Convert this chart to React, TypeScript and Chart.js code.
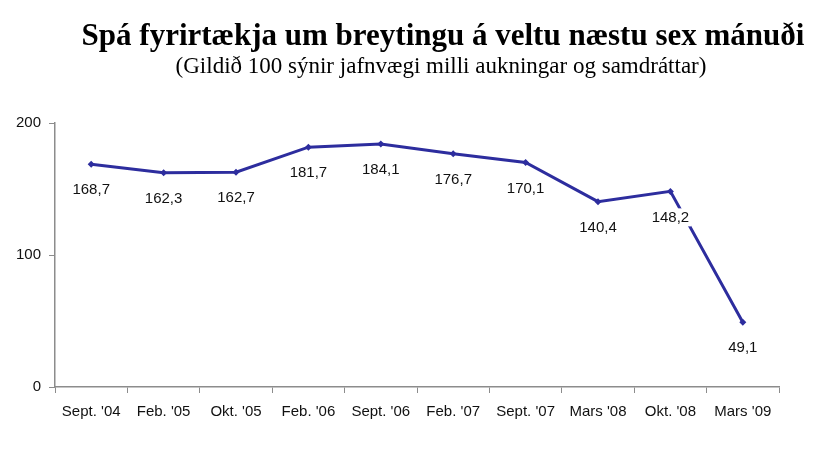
import React, { useEffect, useRef } from "react";
import { Chart, registerables } from "chart.js";

Chart.register(...registerables);

const categories = ["Sept. '04", "Feb. '05", "Okt. '05", "Feb. '06", "Sept. '06", "Feb. '07", "Sept. '07", "Mars '08", "Okt. '08", "Mars '09"];
const values = [168.7, 162.3, 162.7, 181.7, 184.1, 176.7, 170.1, 140.4, 148.2, 49.1];
const valueLabels = ["168,7", "162,3", "162,7", "181,7", "184,1", "176,7", "170,1", "140,4", "148,2", "49,1"];
const titleText = "Spá fyrirtækja um breytingu á veltu næstu sex mánuði";
const subtitleText = "(Gildið 100 sýnir jafnvægi milli aukningar og samdráttar)";

const labelPlugin = {
  id: "valueLabels",
  afterDatasetsDraw(chart: any) {
    const ctx = chart.ctx;
    const meta = chart.getDatasetMeta(0);
    ctx.save();
    ctx.font = "15px 'Liberation Sans', Arial, sans-serif";
    ctx.textAlign = "center";
    ctx.textBaseline = "middle";
    meta.data.forEach((pt: any, i: number) => {
      const txt = valueLabels[i];
      const x = pt.x;
      const y = pt.y + 26;
      const w = ctx.measureText(txt).width;
      ctx.fillStyle = "#ffffff";
      ctx.fillRect(x - w / 2 - 2, y - 9, w + 4, 18);
      ctx.fillStyle = "#111111";
      ctx.fillText(txt, x, y);
    });
    ctx.restore();
  },
};

const titlePlugin = {
  id: "headings",
  afterDraw(chart: any) {
    const ctx = chart.ctx;
    ctx.save();
    ctx.fillStyle = "#000000";
    ctx.textAlign = "center";
    ctx.textBaseline = "middle";
    ctx.font = "bold 31px 'Liberation Serif', 'Times New Roman', serif";
    ctx.fillText(titleText, 443, 37);
    ctx.font = "23px 'Liberation Serif', 'Times New Roman', serif";
    ctx.fillText(subtitleText, 441, 67);
    ctx.restore();
  },
};

export default function App() {
  const ref = useRef<HTMLCanvasElement | null>(null);
  useEffect(() => {
    if (!ref.current) return;
    const chart = new Chart(ref.current, {
      type: "line",
      data: {
        labels: categories,
        datasets: [
          {
            data: values,
            borderColor: "#2D2D9E",
            backgroundColor: "#2D2D9E",
            borderWidth: 3,
            pointStyle: "rectRot",
            pointRadius: 3.5,
            pointBorderWidth: 0,
            tension: 0,
          },
        ],
      },
      options: {
        animation: false,
        responsive: false,
        maintainAspectRatio: false,
        layout: { padding: { left: 8, right: 43, bottom: 27, top: 123 } },
        plugins: {
          legend: { display: false },
          tooltip: { enabled: false },
          title: { display: false },
        },
        scales: {
          x: {
            offset: true,
            grid: { display: true, drawOnChartArea: false, offset: true, tickLength: 6, color: "#8c8c8c" },
            border: { display: true, color: "#8c8c8c", width: 1.5 },
            ticks: { color: "#111111", font: { family: "'Liberation Sans', Arial, sans-serif", size: 15 }, maxRotation: 0, autoSkip: false, padding: 10 },
            afterFit(scale: any) { scale.height = 40; },
          },
          y: {
            min: 0,
            max: 200,
            ticks: { stepSize: 100, color: "#111111", font: { family: "'Liberation Sans', Arial, sans-serif", size: 15 }, padding: 8 },
            grid: { display: true, drawOnChartArea: false, tickLength: 6, color: "#8c8c8c" },
            border: { display: true, color: "#8c8c8c", width: 1.5 },
            afterFit(scale: any) { scale.width = 47; },
          },
        },
      },
      plugins: [labelPlugin, titlePlugin],
    });
    return () => chart.destroy();
  }, []);
  return (
    <div style={{ position: "absolute", left: 0, top: 0, width: 822, height: 454, background: "#fff" }}>
      <canvas ref={ref} width={822} height={454} style={{ width: 822, height: 454 }} />
    </div>
  );
}
